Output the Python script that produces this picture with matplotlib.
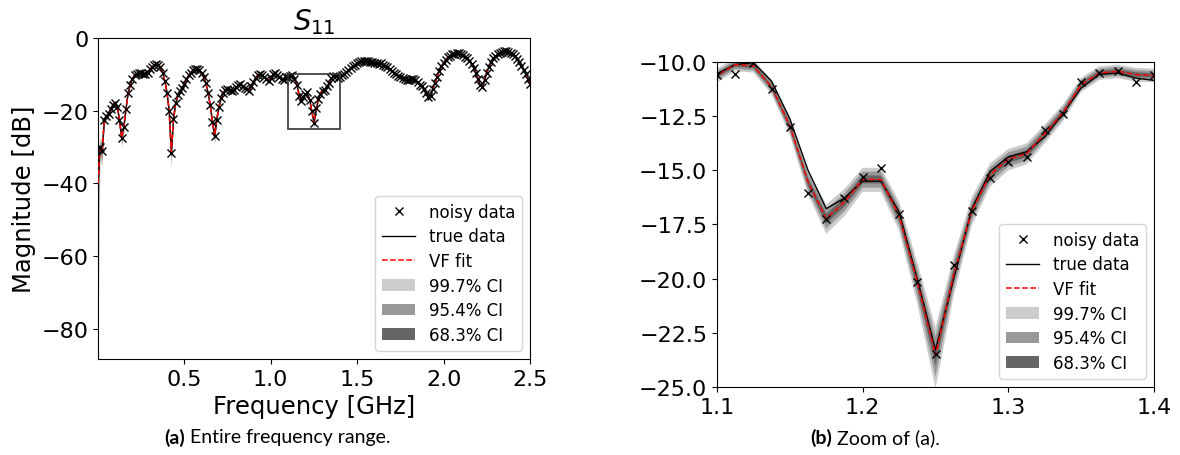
import numpy as np
import matplotlib
matplotlib.use("Agg")
import matplotlib.pyplot as plt
from matplotlib.patches import Rectangle

# frequency grid [GHz]: first sample near DC, then 12.5 MHz steps up to 2.5 GHz
freq = np.concatenate([[0.001], np.round(np.arange(1, 201) * 0.0125, 4)])

# true |S11| in dB; rows are 0.1 GHz apart
true_db = [
    -40.0,
    -30.0, -31.0, -22.5, -21.5, -20.8, -19.5, -18.3, -17.8,
    -19.0, -22.5, -27.5, -24.5, -19.5, -15.2, -12.8, -11.2,
    -10.2, -9.8, -9.6, -9.6, -9.8, -9.9, -9.5, -8.6,
    -8.0, -7.5, -7.1, -7.3, -8.0, -9.5, -11.8, -15.0,
    -20.0, -31.5, -22.3, -18.0, -15.8, -14.7, -13.8, -12.6,
    -11.4, -10.3, -9.5, -8.9, -8.4, -8.4, -8.8, -9.5,
    -10.8, -12.5, -15.0, -18.5, -23.0, -27.0, -22.5, -19.0,
    -16.5, -15.0, -14.3, -14.0, -14.2, -14.5, -14.3, -13.6,
    -13.0, -12.7, -13.3, -13.8, -14.0, -14.6, -13.2, -12.0,
    -11.0, -10.2, -9.8, -10.2, -10.8, -11.4, -11.7, -11.0,
    -10.0, -9.6, -10.1, -10.8, -11.4, -11.5, -10.8, -10.54,
    -10.12, -10.03, -10.89, -12.62, -15.0, -16.77, -16.28, -15.5,
    -15.5, -16.92, -20.03, -23.31, -20.0, -16.77, -15.05, -14.38,
    -14.15, -13.46, -12.38, -11.2, -10.57, -10.51, -10.74, -10.85,
    -10.2, -9.9, -9.4, -8.8, -8.3, -7.8, -7.4, -7.0,
    -6.7, -6.4, -6.3, -6.3, -6.4, -6.5, -6.6, -6.8,
    -6.9, -7.1, -7.0, -7.3, -7.7, -8.1, -8.5, -9.0,
    -9.6, -10.0, -10.4, -10.8, -11.0, -11.3, -11.6, -11.5,
    -11.3, -11.4, -11.6, -12.2, -12.8, -13.2, -14.0, -15.0,
    -16.2, -16.0, -14.0, -12.3, -10.6, -9.0, -7.8, -6.8,
    -6.0, -5.3, -4.9, -4.5, -4.3, -4.2, -4.2, -4.4,
    -4.7, -5.1, -5.6, -6.3, -7.2, -8.3, -9.7, -11.3,
    -13.0, -13.5, -11.5, -9.5, -7.9, -6.6, -5.6, -5.0,
    -4.5, -4.1, -3.8, -3.7, -3.7, -3.8, -4.1, -4.5,
    -5.0, -5.7, -6.6, -7.6, -8.7, -10.0, -11.3, -12.7,
]

# 1.1 - 1.4 GHz window
zoom_start = 88
noisy_zoom = [-10.62, -10.54, -10.05, -11.26, -13.0, -16.05, -17.23, -16.28,
              -15.32, -14.89, -17.0, -20.15, -23.46, -19.35, -16.88, -15.35,
              -14.62, -14.38, -13.15, -12.38, -10.92, -10.51, -10.43, -10.92,
              -10.62]
fit_zoom = [-10.62, -10.12, -10.18, -11.15, -12.95, -15.54, -17.23, -16.46,
            -15.42, -15.42, -17.08, -20.15, -23.54, -19.82, -16.85, -15.2,
            -14.49, -14.23, -13.31, -12.34, -11.05, -10.51, -10.43, -10.58,
            -10.62]

sigma_lin = 0.0036  # std of |S11| (linear) used for the CI bands
ci_levels = [(3, "99.7% CI", "#cccccc"), (2, "95.4% CI", "#999999"), (1, "68.3% CI", "#666666")]

true_db = np.array(true_db)
noisy_db = true_db.copy()
noisy_db[zoom_start:zoom_start + len(noisy_zoom)] = noisy_zoom
fit_db = true_db.copy()
fit_db[zoom_start:zoom_start + len(fit_zoom)] = fit_zoom
fit_mag = 10 ** (fit_db / 20)


def draw(ax):
    for k, label, color in ci_levels:
        lo = 20 * np.log10(np.maximum(fit_mag - k * sigma_lin, 10 ** (-84 / 20)))
        hi = 20 * np.log10(fit_mag + k * sigma_lin)
        ax.fill_between(freq, lo, hi, color=color, lw=0, label=label, zorder=1)
    ax.plot(freq[1:], noisy_db[1:], "x", color="k", ms=6, mew=1, label="noisy data", zorder=4)
    ax.plot(freq, true_db, "-", color="k", lw=1, label="true data", zorder=2)
    ax.plot(freq, fit_db, "--", color="red", lw=1.1, label="VF fit", zorder=3)
    h, l = ax.get_legend_handles_labels()
    order = [l.index(n) for n in ["noisy data", "true data", "VF fit",
                                  "99.7% CI", "95.4% CI", "68.3% CI"]]
    ax.legend([h[i] for i in order], [l[i] for i in order], loc="lower right",
              prop={"family": "DejaVu Sans", "size": 12}, labelspacing=0.4)
    ax.tick_params(labelsize=16)


W, H = 1180, 456
fig = plt.figure(figsize=(W / 100, H / 100), dpi=100)

ax1 = fig.add_axes([98 / W, 1 - 360 / H, 432 / W, 321 / H])
draw(ax1)
ax1.add_patch(Rectangle((1.1, -25), 0.3, 15, fill=False, edgecolor="0.2", lw=1.2, zorder=5))
ax1.set_xlim(0.001, 2.5)
ax1.set_ylim(-88.3, 0)
ax1.set_yticks([0, -20, -40, -60, -80])
ax1.set_xticks([0.5, 1.0, 1.5, 2.0, 2.5])
ax1.set_xlabel("Frequency [GHz]", fontsize=17.5)
ax1.set_ylabel("Magnitude [dB]", fontsize=17.5)
ax1.set_title("$S_{11}$", fontsize=20)

ax2 = fig.add_axes([717 / W, 1 - 388 / H, 437 / W, 325 / H])
draw(ax2)
ax2.set_xlim(1.1, 1.4)
ax2.set_ylim(-25, -10)
ax2.set_xticks([1.1, 1.2, 1.3, 1.4])


def caption(xc, y, tag, rest):
    t1 = fig.text(0, 1 - y / H, tag, family="Lato", fontweight="bold", fontsize=14, va="center")
    t2 = fig.text(0, 1 - y / H, " " + rest, family="Lato", fontsize=14, va="center")
    r = fig.canvas.get_renderer()
    w1 = t1.get_window_extent(r).width
    w2 = t2.get_window_extent(r).width
    x0 = xc - (w1 + w2) / 2
    t1.set_x(x0 / W)
    t2.set_x((x0 + w1) / W)


caption(277, 438, "(a)", "Entire frequency range.")
caption(875, 438, "(b)", "Zoom of (a).")

fig.savefig("out.png", dpi=100)
